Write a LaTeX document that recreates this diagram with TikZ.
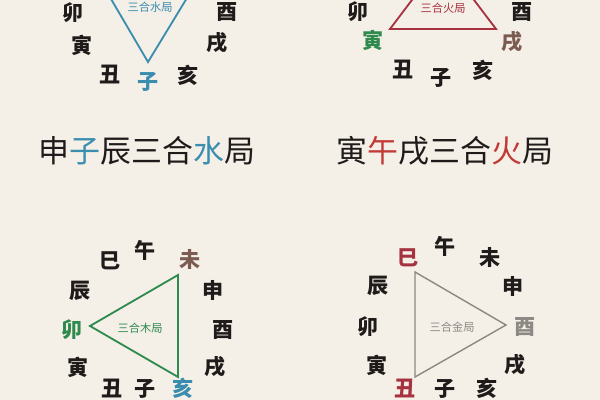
\documentclass[tikz,border=0pt]{standalone}
\usepackage{fontspec}
\newfontfamily\cjk{Noto Sans CJK SC}
\usetikzlibrary{positioning}
\definecolor{paper}{HTML}{F4EFE7}
\definecolor{water}{HTML}{3A8DAE}
\definecolor{fire}{HTML}{A5323E}
\definecolor{firetext}{HTML}{C23A36}
\definecolor{wood}{HTML}{2F8A4E}
\definecolor{metal}{HTML}{8C8884}
\definecolor{earth}{HTML}{7B5B52}
\definecolor{ink}{HTML}{1E1B1A}
\tikzset{
  branch/.style={font=\cjk\bfseries\fontsize{15}{15}\selectfont,
                 inner sep=0pt,text=ink},
  title/.style={font=\cjk\fontsize{22}{22}\selectfont,
                inner sep=0pt,text=ink},
  sanhe/.style={line width=1.3pt,line join=miter},
  inlabel/.style={font=\cjk\fontsize{8}{8}\selectfont,inner sep=0pt},
}

\begin{document}
\begin{tikzpicture}[x=0.025cm,y=-0.025cm]
    % Paper
    \useasboundingbox (0,0) rectangle (600,400);
    \fill[paper] (0,0) rectangle (600,400);
    \clip (0,0) rectangle (600,400);

    % Water frame (top left)
    \node[branch] (wmao)  at (73,13)  {卯};
    \node[branch] (wyou)  at (227,12) {酉};
    \node[branch] (wyin)  at (82,45)  {寅};
    \node[branch] (wxu)   at (217,43) {戌};
    \node[branch] (wchou) at (110,75) {丑};
    \node[branch,text=water] (wzi) at (148,82) {子};
    \node[branch] (whai)  at (188,75) {亥};
    \coordinate (wtl) at (94,-30);
    \coordinate (wtr) at (204,-30);
    \coordinate (wbot) at (148,62);
    \draw[sanhe,water] (wtl) -- (wtr) -- (wbot) -- cycle;
    \node[inlabel,text=water] (wlabel) at (150,7) {三合水局};

    % Fire frame (top right)
    \node[branch] (fmao)  at (358,12) {卯};
    \node[branch] (fyou)  at (522,12) {酉};
    \node[branch,text=wood]  (fyin) at (373,40) {寅};
    \node[branch,text=earth] (fxu)  at (512,42) {戌};
    \node[branch] (fchou) at (403,70) {丑};
    \node[branch] (fzi)   at (441,78) {子};
    \node[branch] (fhai)  at (483,70) {亥};
    \coordinate (ftop) at (443,-41);
    \coordinate (fbl) at (390,29);
    \coordinate (fbr) at (496,29);
    \draw[sanhe,fire] (ftop) -- (fbr) -- (fbl) -- cycle;
    \node[inlabel,text=fire] (flabel) at (443,8) {三合火局};

    % Titles
    \node[title] (wtitle) at (147,151)
        {申\textcolor{water}{子}辰三合\textcolor{water}{水}局};
    \node[title] (ftitle) at (445,151)
        {寅\textcolor{firetext}{午}戌三合\textcolor{firetext}{火}局};

    % Wood frame (bottom left)
    \node[branch] (msi)   at (110,261) {巳};
    \node[branch] (mwu)   at (145,250) {午};
    \node[branch,text=earth] (mwei) at (190,259) {未};
    \node[branch] (mchen) at (80,291)  {辰};
    \node[branch] (mshen) at (213,290) {申};
    \node[branch,text=wood] (mmao) at (72,330) {卯};
    \node[branch] (myou)  at (223,330) {酉};
    \node[branch] (myin)  at (78,367)  {寅};
    \node[branch] (mxu)   at (215,367) {戌};
    \node[branch] (mchou) at (112,389) {丑};
    \node[branch] (mzi)   at (145,389) {子};
    \node[branch,text=water] (mhai) at (183,388) {亥};
    \coordinate (mtop) at (178,275);
    \coordinate (mleft) at (90,326);
    \coordinate (mbot) at (178,377);
    \draw[sanhe,wood] (mtop) -- (mleft) -- (mbot) -- cycle;
    \node[inlabel,text=wood] (mlabel) at (140,328) {三合木局};

    % Metal frame (bottom right)
    \node[branch,text=fire] (jsi) at (408,258) {巳};
    \node[branch] (jwu)   at (445,246) {午};
    \node[branch] (jwei)  at (490,257) {未};
    \node[branch] (jchen) at (378,286) {辰};
    \node[branch] (jshen) at (513,286) {申};
    \node[branch] (jmao)  at (368,327) {卯};
    \node[branch,text=metal] (jyou) at (525,327) {酉};
    \node[branch] (jyin)  at (377,365) {寅};
    \node[branch] (jxu)   at (515,365) {戌};
    \node[branch,text=fire] (jchou) at (405,389) {丑};
    \node[branch] (jzi)   at (445,389) {子};
    \node[branch] (jhai)  at (487,388) {亥};
    \coordinate (jtop) at (415,272);
    \coordinate (jright) at (506,325);
    \coordinate (jbot) at (415,377);
    \draw[sanhe,metal,line width=1pt] (jtop) -- (jright) -- (jbot) -- cycle;
    \node[inlabel,text=metal] (jlabel) at (452,327) {三合金局};
\end{tikzpicture}
\end{document}
